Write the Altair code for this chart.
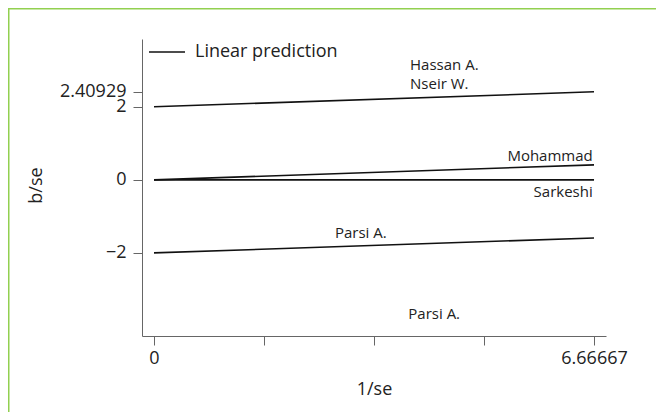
import altair as alt
import pandas as pd

# Regression lines (Galbraith plot): x = 1/se, y = b/se
line_series = ["upper", "upper", "center", "center", "lower", "lower", "zero", "zero"]
line_x = [0, 6.66667, 0, 6.66667, 0, 6.66667, 0, 6.66667]
line_y = [2, 2.40929, 0, 0.40929, -2, -1.59071, 0, 0]

# Study labels
label_names = ["Hassan A.", "Nseir W.", "Mohammad", "Sarkeshi", "Parsi A.", "Parsi A."]
label_x = [3.879, 3.879, 6.647, 6.647, 2.742, 3.853]
label_y = [2.995, 2.493, 0.529, -0.458, -1.597, -3.816]
label_side = ["left", "left", "right", "right", "left", "left"]

x_ticks = [0, 1.66667, 3.33333, 5, 6.66667]
y_ticks = [-2, 0, 2, 2.40929]

FONT = "Open Sans"

lines_df = pd.DataFrame({
    "series": line_series, "x": line_x, "y": line_y,
    "key": ["Linear prediction"] * len(line_x),
})
labels_df = pd.DataFrame({"name": label_names, "x": label_x, "y": label_y, "side": label_side})

xscale = alt.Scale(domain=[-0.1818, 6.848], nice=False, zero=False)
yscale = alt.Scale(domain=[-4.274, 3.855], nice=False, zero=False)

xaxis = alt.Axis(
    values=x_ticks, title="1/se", grid=False,
    labelExpr="datum.value == 0 ? '0' : (abs(datum.value - 6.66667) < 0.001 ? '6.66667' : '')",
    labelFont=FONT, labelFontSize=18, labelColor="#222", labelPadding=4,
    titleFont=FONT, titleFontSize=18, titleFontWeight="normal", titleColor="#222",
    titleY=53, titleBaseline="middle",
    tickSize=9, tickColor="#666", domainColor="#666", labelOverlap=False, labelBound=False,
)
yaxis = alt.Axis(
    values=y_ticks, title="b/se", grid=False,
    labelExpr="abs(datum.value - 2.40929) < 0.001 ? '2.40929' : (datum.value < 0 ? '\u2212' + format(abs(datum.value), 'd') : format(datum.value, 'd'))",
    labelFont=FONT, labelFontSize=18, labelColor="#222", labelPadding=7, labelBaseline="middle",
    titleFont=FONT, titleFontSize=18, titleFontWeight="normal", titleColor="#222",
    titleX=-106, titleY=146, titleBaseline="middle", titleAngle=-90,
    tickSize=9, tickColor="#666", domainColor="#666", labelOverlap=False, labelBound=False,
)

lines = alt.Chart(lines_df).mark_line(strokeWidth=1.6).encode(
    x=alt.X("x:Q", scale=xscale, axis=xaxis),
    y=alt.Y("y:Q", scale=yscale, axis=yaxis),
    detail="series:N",
    color=alt.Color("key:N", scale=alt.Scale(range=["#111111"]),
                    legend=alt.Legend(title=None, orient="none", legendX=6, legendY=-6,
                                      symbolType="stroke", symbolSize=1300, symbolStrokeWidth=1.6,
                                      labelFont=FONT, labelFontSize=18, labelColor="#222",
                                      labelOffset=9)),
)

text_left = alt.Chart(labels_df).transform_filter(alt.datum.side == "left").mark_text(
    align="left", baseline="alphabetic", font=FONT, fontSize=15, color="#222"
).encode(x=alt.X("x:Q", scale=xscale), y=alt.Y("y:Q", scale=yscale), text="name:N")

text_right = alt.Chart(labels_df).transform_filter(alt.datum.side == "right").mark_text(
    align="right", baseline="alphabetic", font=FONT, fontSize=15, color="#222"
).encode(x=alt.X("x:Q", scale=xscale), y=alt.Y("y:Q", scale=yscale), text="name:N")

frame_df = pd.DataFrame({"a": [0]})
frame_left = alt.Chart(frame_df).mark_rule(color="#92D050", strokeWidth=1.5).encode(
    x=alt.value(-133.25), y=alt.value(-30.25), y2=alt.value(400))
frame_top = alt.Chart(frame_df).mark_rule(color="#92D050", strokeWidth=1.5).encode(
    x=alt.value(-134), x2=alt.value(520), y=alt.value(-30.25))

chart = alt.layer(frame_left, frame_top, lines, text_left, text_right).properties(
    width=464, height=297,
    autosize=alt.AutoSizeParams(type="none"),
    padding={"left": 134, "top": 31, "right": 50, "bottom": 76},
    background="white",
).configure_view(stroke=None)

chart.save("out.html", embed_options={"renderer": "svg", "actions": False})
